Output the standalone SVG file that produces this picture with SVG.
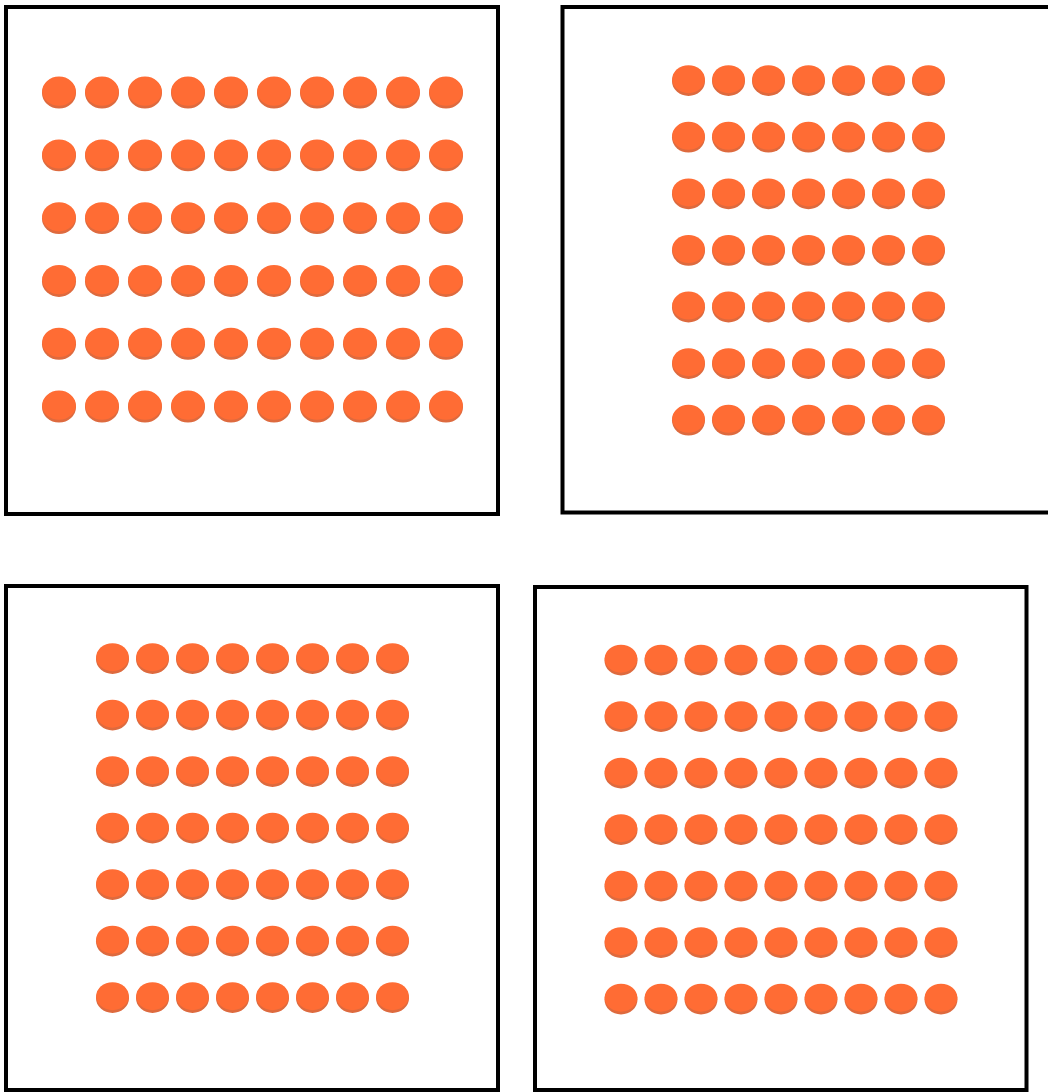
<svg xmlns="http://www.w3.org/2000/svg" xmlns:xlink="http://www.w3.org/1999/xlink" width="1048" height="1092" viewBox="0 0 1048 1092">
<style>
.box{fill:#ffffff;stroke:#000000;stroke-width:4}
.sh{fill:#DE6A3E}
.tp{fill:#FF6C34}
</style>
<defs>
<g id="dA"><ellipse class="sh" cx="0" cy="1" rx="17" ry="15.5"/><ellipse class="tp" cx="0" cy="-0.8" rx="16.8" ry="14.6"/></g>
<g id="dB"><ellipse class="sh" cx="0" cy="1" rx="16.5" ry="15"/><ellipse class="tp" cx="0" cy="-0.8" rx="16.3" ry="14"/></g>
<g id="r1"><use href="#dA" x="59"/><use href="#dA" x="102"/><use href="#dA" x="145"/><use href="#dA" x="188"/><use href="#dA" x="231"/><use href="#dA" x="274"/><use href="#dA" x="317"/><use href="#dA" x="360"/><use href="#dA" x="403"/><use href="#dA" x="446"/></g>
<g id="r2"><use href="#dB" x="688.5"/><use href="#dB" x="728.5"/><use href="#dB" x="768.5"/><use href="#dB" x="808.5"/><use href="#dB" x="848.5"/><use href="#dB" x="888.5"/><use href="#dB" x="928.5"/></g>
<g id="r3"><use href="#dB" x="112.5"/><use href="#dB" x="152.5"/><use href="#dB" x="192.5"/><use href="#dB" x="232.5"/><use href="#dB" x="272.5"/><use href="#dB" x="312.5"/><use href="#dB" x="352.5"/><use href="#dB" x="392.5"/></g>
<g id="r4"><use href="#dB" x="621"/><use href="#dB" x="661"/><use href="#dB" x="701"/><use href="#dB" x="741"/><use href="#dB" x="781"/><use href="#dB" x="821"/><use href="#dB" x="861"/><use href="#dB" x="901"/><use href="#dB" x="941"/></g>
</defs>
<rect x="0" y="0" width="1048" height="1092" fill="#ffffff"/>
<g id="panel1">
<rect class="box" x="6" y="7" width="492" height="507"/>
<use href="#r1" y="92"/><use href="#r1" y="154.8"/><use href="#r1" y="217.6"/><use href="#r1" y="280.4"/><use href="#r1" y="343.2"/><use href="#r1" y="406"/>
</g>
<g id="panel2">
<rect class="box" x="562.5" y="7" width="492" height="505.5"/>
<use href="#r2" y="80"/><use href="#r2" y="136.6"/><use href="#r2" y="193.2"/><use href="#r2" y="249.8"/><use href="#r2" y="306.4"/><use href="#r2" y="363"/><use href="#r2" y="419.6"/>
</g>
<g id="panel3">
<rect class="box" x="6" y="586" width="492" height="504"/>
<use href="#r3" y="658"/><use href="#r3" y="714.5"/><use href="#r3" y="771"/><use href="#r3" y="827.5"/><use href="#r3" y="884"/><use href="#r3" y="940.5"/><use href="#r3" y="997"/>
</g>
<g id="panel4">
<rect class="box" x="535" y="587" width="491.5" height="503"/>
<use href="#r4" y="659.5"/><use href="#r4" y="716"/><use href="#r4" y="772.5"/><use href="#r4" y="829"/><use href="#r4" y="885.5"/><use href="#r4" y="942"/><use href="#r4" y="998.5"/>
</g>
</svg>
